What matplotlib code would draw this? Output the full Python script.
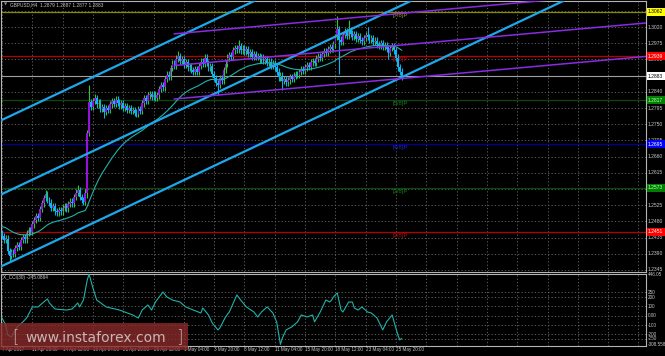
import numpy as np
import matplotlib.pyplot as plt
from matplotlib.patches import Rectangle

# GBPUSD H4 candles, 7 Apr 2017 04:00 onwards (closes)
closes = [
    1.2440, 1.2428, 1.2432, 1.2398, 1.2384,
    1.2395, 1.2390, 1.2406,
    1.2415, 1.2410, 1.2428, 1.2436, 1.2430,
    1.2448, 1.2456, 1.2450, 1.2472, 1.2484,
    1.2495, 1.2490, 1.2515, 1.2530, 1.2545, 1.2556,
    1.2540, 1.2532, 1.2518, 1.2522, 1.2508, 1.2505,
    1.2512, 1.2508, 1.2518, 1.2522, 1.2516, 1.2529, 1.2535, 1.2530,
    1.2548, 1.2560, 1.2566, 1.2548, 1.2540, 1.2535,
    1.2560, 1.2725, 1.2812, 1.2798, 1.2815,
    1.2822, 1.2805, 1.2810, 1.2792, 1.2798, 1.2784,
    1.2795, 1.2790, 1.2805, 1.2815, 1.2806, 1.2818, 1.2810, 1.2802,
    1.2808, 1.2796, 1.2800, 1.2790, 1.2795, 1.2786, 1.2790, 1.2782, 1.2778,
    1.2792, 1.2788, 1.2808, 1.2822, 1.2815, 1.2830, 1.2834, 1.2826,
    1.2832, 1.2824, 1.2830, 1.2848, 1.2858,
    1.2852, 1.2875, 1.2888, 1.2882, 1.2906, 1.2918, 1.2912, 1.2932, 1.2940,
    1.2926, 1.2930, 1.2916, 1.2922, 1.2908, 1.2912, 1.2900,
    1.2896, 1.2902, 1.2895, 1.2912, 1.2924, 1.2918, 1.2935,
    1.2920, 1.2908, 1.2912, 1.2890, 1.2878, 1.2865, 1.2860,
    1.2878, 1.2872, 1.2900, 1.2918, 1.2935, 1.2942,
    1.2936, 1.2955, 1.2962, 1.2958, 1.2968, 1.2955, 1.2960, 1.2952,
    1.2958, 1.2946, 1.2950, 1.2938, 1.2944, 1.2936, 1.2940, 1.2930, 1.2936, 1.2926, 1.2930,
    1.2920, 1.2924, 1.2912, 1.2918, 1.2908, 1.2896, 1.2880, 1.2885, 1.2870,
    1.2876, 1.2866, 1.2872, 1.2880, 1.2875, 1.2885, 1.2890,
    1.2886, 1.2895, 1.2902, 1.2898, 1.2908, 1.2915, 1.2910, 1.2922, 1.2926, 1.2920,
    1.2932, 1.2938, 1.2934, 1.2945, 1.2952, 1.2948, 1.2958, 1.2965, 1.2960, 1.2972, 1.2992, 1.3015,
    1.2985, 1.2978, 1.2998, 1.3008, 1.2996, 1.3012, 1.3002, 1.2994, 1.3000,
    1.2988, 1.2994, 1.2984, 1.2980, 1.2990, 1.2998, 1.2992,
    1.2985, 1.2990, 1.2978, 1.2982, 1.2972, 1.2968, 1.2975, 1.2966,
    1.2970, 1.2960, 1.2948, 1.2962, 1.2966, 1.2955, 1.2935, 1.2908, 1.2896, 1.2883,
]
first_open = 1.2448
wick = 0.0009
# bars with long shadows
high_marks = {23: 1.2567, 40: 1.2582, 46: 1.2859, 49: 1.2835, 93: 1.2952, 107: 1.2945,
              125: 1.2985, 177: 1.3052, 183: 1.3040, 193: 1.3020}
low_marks = {4: 1.2370, 45: 1.2545, 54: 1.2768, 71: 1.2770, 114: 1.2830, 148: 1.2845,
             178: 1.2890, 204: 1.2930}

ma_seed = 1.2467
ma_span = 40

# CCI(30) sub-window, points
cci_bar = [0, 2, 3, 5, 8, 11, 13, 16, 19, 22, 24, 25, 28, 34, 37, 40, 41, 43, 45, 46, 48, 50,
           55, 62, 69, 72, 74, 77, 79, 81, 83, 85, 87, 90, 94, 97, 101, 105, 106, 109, 111,
           114, 115, 118, 120, 124, 126, 129, 133, 135, 137, 140, 143, 145, 147, 148, 150,
           153, 156, 158, 161, 164, 165, 168, 171, 173, 174, 175, 177, 179, 180, 183, 185,
           186, 188, 190, 193, 195, 198, 201, 203, 206, 207, 209, 210, 211]
cci_val = [-25, -100, -207, -230, -120, -67, -25, 94, 94, 147, 180, 137, 72, 61, 72, 137, 94,
           169, 384, 446.05, 298, 169, 94, 61, 8, -25, 61, 115, 61, 147, 202, 255, 202, 169,
           147, 94, 61, 29, 83, 8, -78, -153, -132, -14, 40, 223, 169, 94, 40, -14, 40, 94,
           29, -67, -308.558, -240, -153, -120, -67, 8, -14, 8, -67, 40, 169, 147, 169, 202,
           245, 61, 40, 147, 147, 83, 61, 94, 40, 29, -25, -153, -67, 8, -67, -207, -260,
           -245.0864]
cci_levels = [250, 200, 100, 0, -100, -200, -250]
cci_labels = ["446.05", "250", "200", "100", "0.00", "-100", "-200", "-250", "-308.558"]
cci_label_vals = [446.05, 250, 200, 100, 0, -100, -200, -250, -308.558]

date_labels = ["7 Apr 2017", "11 Apr 20:00", "14 Apr 12:00", "19 Apr 04:00", "21 Apr 20:00",
               "26 Apr 12:00", "1 May 04:00", "3 May 20:00", "8 May 12:00", "11 May 04:00",
               "15 May 20:00", "18 May 12:00", "23 May 04:00", "25 May 20:00"]
bars_per_label = 16
grid_count = 22

price_ticks = [1.2345, 1.2390, 1.2435, 1.2480, 1.2525, 1.2570, 1.2615, 1.2660, 1.2705,
               1.2750, 1.2795, 1.2840, 1.2885, 1.2930, 1.2975, 1.3020, 1.3065]

murray_levels = [1.3062, 1.2939, 1.2817, 1.2695, 1.2573, 1.2451]
murray_names = ["[7/8]P", "[6/8]P", "[5/8]P", "[4/8]P", "[3/8]P", "[2/8]P"]
murray_line = ["#8a8a00", "#b40000", "#0a4a0a", "#000096", "#0a4a0a", "#b40000"]
murray_text = ["#9a9a10", "#b01010", "#1a7a1a", "#2020d0", "#1a7a1a", "#b01010"]
murray_box = ["#ffff00", "#ff0000", "#008000", "#0000ff", "#008000", "#ff0000"]
murray_box_fg = ["black", "white", "#c0ffc0", "white", "#c0ffc0", "white"]
last_price = 1.2883

channel_bars = [0, 200]
channel_prices = [[1.2762, 1.3258], [1.2556, 1.3053], [1.2356, 1.2853]]
fork_bars = [91, 211]
fork_prices = [[1.3001, 1.3058], [1.2913, 1.2970], [1.2820, 1.2877]]

W, H = 665, 356
small = "Liberation Sans"
txt = "#c8c8c8"
grid_kw = dict(color="#6a6a6a", lw=0.6, ls=(0, (1.5, 2.5)))

closes = np.array(closes)
n = len(closes)
idx = np.arange(n)
opens = np.concatenate([[first_open], closes[:-1]])
highs = np.maximum(opens, closes) + wick
lows = np.minimum(opens, closes) - wick
for k, v in high_marks.items():
    highs[k] = v
for k, v in low_marks.items():
    lows[k] = v

ma = []
v = ma_seed
alpha = 2.0 / (ma_span + 1)
for c in closes:
    v = v + alpha * (c - v)
    ma.append(v)

fig = plt.figure(figsize=(W / 100, H / 100), dpi=100, facecolor="black")
ax = fig.add_axes([1 / W, (H - 272) / H, 645 / W, 271 / H], facecolor="black")
ax2 = fig.add_axes([1 / W, (H - 345.5) / H, 645 / W, 71.5 / H], facecolor="black")

xlim = (-0.53, 340.0)
for a in (ax, ax2):
    a.set_xlim(*xlim)
    a.set_xticks([])
    a.set_yticks([])
    for s in a.spines.values():
        s.set_color("#b4b4b4")
        s.set_linewidth(0.8)
    for k in range(grid_count):
        a.axvline(k * bars_per_label, zorder=0, **grid_kw)

ax.set_ylim(1.23394, 1.30923)
ax2.set_ylim(-320.4, 448.4)

# price grid + labels
for p in price_ticks:
    ax.axhline(p, zorder=0, **grid_kw)
    ax.text(1 + 2 / 645, p, f"{p:.4f}", transform=ax.get_yaxis_transform(), color=txt,
            fontsize=3.6, family=small, va="center", ha="left", clip_on=False, zorder=5)

# Murray levels
for lvl, name, lc, tc, bc, fg in zip(murray_levels, murray_names, murray_line, murray_text,
                                      murray_box, murray_box_fg):
    ax.axhline(lvl, color=lc, lw=0.9, zorder=1)
    ax.text(206, lvl - 0.0003, name, color=tc, fontsize=4.2, family=small, va="top",
            ha="left", zorder=1)
    ax.text(1 + 2 / 645, lvl, f"{lvl:.4f}", transform=ax.get_yaxis_transform(), color=fg,
            fontsize=3.6, family=small, va="center", ha="left", clip_on=False, zorder=8,
            bbox=dict(boxstyle="square,pad=0.3", fc=bc, ec="none"))

ax.axhline(last_price, color="#a0a0a0", lw=0.8, zorder=1)
ax.text(1 + 2 / 645, last_price, f"{last_price:.4f}", transform=ax.get_yaxis_transform(),
        color="black", fontsize=3.6, family=small, va="center", ha="left", clip_on=False,
        zorder=8, bbox=dict(boxstyle="square,pad=0.3", fc="white", ec="none"))

# candles
up = closes >= opens
body = np.maximum(np.abs(closes - opens), 0.0002)
ax.vlines(idx, lows, highs, colors=np.where(up, "#2fc43a", "#00b4f0"), lw=0.8, zorder=3)
ax.bar(idx[up], body[up], bottom=opens[up], width=0.9, color="#9612dc", lw=0, zorder=4)
ax.bar(idx[~up], body[~up], bottom=closes[~up], width=0.9, color="#14b4f0", lw=0, zorder=4)

ax.plot(idx, ma, color="#20b2aa", lw=0.8, zorder=5)

# trend channel (rays) and purple fork
for pr in channel_prices:
    ax.axline((channel_bars[0], pr[0]), (channel_bars[1], pr[1]), color="#1ea8ec", lw=1.6,
              zorder=6)
for pr in fork_prices:
    slope = (pr[1] - pr[0]) / (fork_bars[1] - fork_bars[0])
    xs = [fork_bars[0], xlim[1]]
    ax.plot(xs, [pr[0], pr[0] + slope * (xlim[1] - fork_bars[0])], color="#8a2be2", lw=1.1,
            zorder=6)

ax.text(3 / 645, 1 - 4 / 271, "\u25bc", transform=ax.transAxes, color="#909090", fontsize=3,
        va="center", ha="left")
ax.text(9 / 645, 1 - 4 / 271, "GBPUSD,H4  1.2879 1.2887 1.2877 1.2883", transform=ax.transAxes,
        color=txt, fontsize=3.4, family=small, va="center", ha="left")

# CCI window
for lv in cci_levels:
    ax2.axhline(lv, zorder=0, **grid_kw)
ax2.plot(cci_bar, cci_val, color="#20b2aa", lw=0.8, zorder=3)
for s, lv in zip(cci_labels, cci_label_vals):
    ax2.text(1 + 2 / 645, lv, s, transform=ax2.get_yaxis_transform(), color=txt, fontsize=3.3,
             family=small, va="center", ha="left", clip_on=False)
ax2.text(2 / 645, 1 - 4 / 71.5, "X_CCI(30) -245.0864", transform=ax2.transAxes, color=txt,
         fontsize=3.4, family=small, va="center", ha="left")

for k, lab in enumerate(date_labels):
    ax2.text(k * bars_per_label, -4.5 / 71.5, lab, transform=ax2.get_xaxis_transform(),
             color=txt, fontsize=3.3, family=small, va="center", ha="left", clip_on=False)

# watermark
fig.add_artist(Rectangle((0, 6 / H), 188 / W, 27 / H, transform=fig.transFigure,
                         facecolor="#8a2a2a", alpha=0.8, edgecolor="none", zorder=10))
fig.text(12 / W, (H - 337) / H, "[", color="#d8d0d0", alpha=0.85, fontsize=12, va="center",
         ha="left", zorder=11, fontweight="light")
fig.text(25 / W, (H - 338) / H, "www.instaforex.com", color="#d8d0d0", alpha=0.85,
         fontsize=10, va="center", ha="left", zorder=11)
fig.text(176 / W, (H - 337) / H, "]", color="#d8d0d0", alpha=0.85, fontsize=12, va="center",
         ha="left", zorder=11, fontweight="light")

fig.savefig("out.png", dpi=100, facecolor="black")
